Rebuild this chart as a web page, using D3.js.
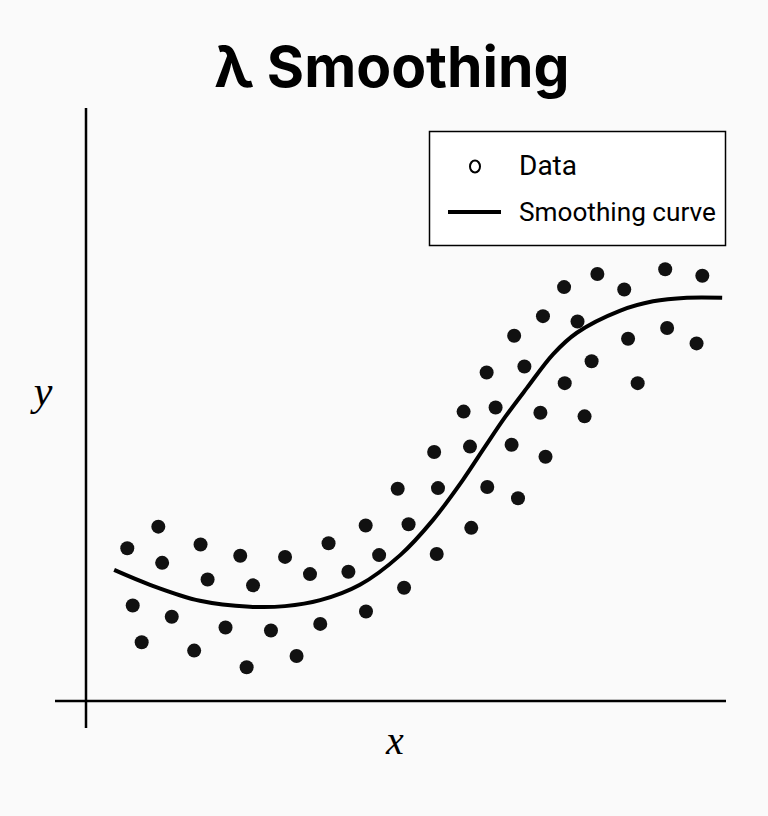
<!DOCTYPE html>
<html>
<head>
<meta charset="utf-8">
<script src="https://cdn.jsdelivr.net/npm/d3@7"></script>
<style>
  html, body { margin: 0; padding: 0; background: #fafafa; }
  svg { display: block; }
</style>
</head>
<body>
<svg id="chart" width="768" height="816"></svg>
<script>
// ---- data ----
const title = "λ Smoothing";
const xLabel = "x";
const yLabel = "y";
const legendLabels = ["Data", "Smoothing curve"];

const dataX = [0.645, 1.13, 1.19, 0.73, 0.87, 1.34, 1.79, 1.90, 1.69, 2.18,
  2.41, 2.61, 2.51, 2.89, 3.11, 3.29, 3.50, 3.66, 4.375, 4.10,
  3.79, 4.58, 4.97, 4.37, 5.04, 4.87, 5.48, 5.50, 5.44, 6.02,
  6.27, 6.00, 6.65, 6.75, 7.18, 5.90, 6.40, 7.10, 7.79, 6.26,
  6.85, 7.48, 7.90, 8.62, 6.69, 7.14, 7.68, 8.47, 9.08, 9.54,
  7.47, 7.99, 8.41, 9.05, 9.63];
const dataY = [2.575, 2.94, 2.33, 1.61, 0.99, 1.42, 2.64, 2.05, 0.85, 1.24,
  2.45, 1.95, 0.57, 1.19, 2.43, 0.76, 2.14, 1.30, 1.51, 2.18,
  2.66, 2.46, 1.91, 2.96, 2.98, 3.58, 2.48, 3.59, 4.20, 2.92,
  3.61, 4.29, 4.32, 3.42, 4.12, 4.88, 4.95, 4.86, 4.80, 5.54,
  5.64, 5.36, 5.73, 5.36, 6.16, 6.49, 6.40, 6.11, 6.29, 6.03,
  6.98, 7.20, 6.94, 7.28, 7.17];

const curveX = [0.44, 1.00, 1.78, 2.56, 3.11, 3.66, 4.28, 4.91, 5.42, 5.89,
  6.23, 6.55, 6.89, 7.30, 7.67, 8.34, 8.86, 9.39, 9.94];
const curveY = [2.21, 1.96, 1.69, 1.59, 1.60, 1.70, 1.96, 2.46, 3.05, 3.73,
  4.28, 4.79, 5.28, 5.85, 6.21, 6.58, 6.74, 6.80, 6.80];

// ---- layout ----
const svg = d3.select("#chart");
const x = d3.scaleLinear().domain([0, 10]).range([86, 726]);
const y = d3.scaleLinear().domain([0, 10]).range([701, 108]);

// title
svg.append("text")
  .attr("x", 392).attr("y", 87)
  .attr("text-anchor", "middle")
  .attr("font-family", "Inter, Roboto, sans-serif")
  .attr("font-weight", 700)
  .attr("font-size", 57)
  .text(title);

// axes
svg.append("line")
  .attr("x1", 55).attr("x2", 726)
  .attr("y1", y(0)).attr("y2", y(0))
  .attr("stroke", "#000").attr("stroke-width", 2.5);
svg.append("line")
  .attr("x1", x(0)).attr("x2", x(0))
  .attr("y1", 108).attr("y2", 728)
  .attr("stroke", "#000").attr("stroke-width", 2.5);

// axis labels
svg.append("text")
  .attr("x", 395).attr("y", 754)
  .attr("text-anchor", "middle")
  .attr("font-family", "'Liberation Serif', serif")
  .attr("font-style", "italic")
  .attr("font-size", 40)
  .text(xLabel);
svg.append("text")
  .attr("x", 43).attr("y", 405)
  .attr("text-anchor", "middle")
  .attr("font-family", "'Liberation Serif', serif")
  .attr("font-style", "italic")
  .attr("font-size", 42)
  .text(yLabel);

// points
const pts = dataX.map((d, i) => ({ x: d, y: dataY[i] }));
svg.append("g").selectAll("circle")
  .data(pts).join("circle")
  .attr("cx", d => x(d.x))
  .attr("cy", d => y(d.y))
  .attr("r", 7)
  .attr("fill", "#111");

// smoothing curve
const cpts = curveX.map((d, i) => [d, curveY[i]]);
svg.append("path")
  .datum(cpts)
  .attr("fill", "none")
  .attr("stroke", "#000")
  .attr("stroke-width", 4)
  .attr("d", d3.line().x(d => x(d[0])).y(d => y(d[1])).curve(d3.curveCatmullRom.alpha(0.5)));

// legend
const lg = svg.append("g");
lg.append("rect")
  .attr("x", 429.5).attr("y", 131.5)
  .attr("width", 296).attr("height", 114)
  .attr("fill", "#fff").attr("stroke", "#000").attr("stroke-width", 1.5);
lg.append("ellipse")
  .attr("cx", 475).attr("cy", 166.5)
  .attr("rx", 5).attr("ry", 6)
  .attr("fill", "none").attr("stroke", "#000").attr("stroke-width", 2);
lg.append("line")
  .attr("x1", 448).attr("x2", 501)
  .attr("y1", 212).attr("y2", 212)
  .attr("stroke", "#000").attr("stroke-width", 4);
lg.append("text")
  .attr("x", 519).attr("y", 175)
  .attr("font-family", "Roboto, sans-serif")
  .attr("font-size", 28)
  .text(legendLabels[0]);
lg.append("text")
  .attr("x", 519).attr("y", 221)
  .attr("font-family", "Roboto, sans-serif")
  .attr("font-size", 25)
  .attr("textLength", 197)
  .attr("lengthAdjust", "spacingAndGlyphs")
  .text(legendLabels[1]);
</script>
</body>
</html>
